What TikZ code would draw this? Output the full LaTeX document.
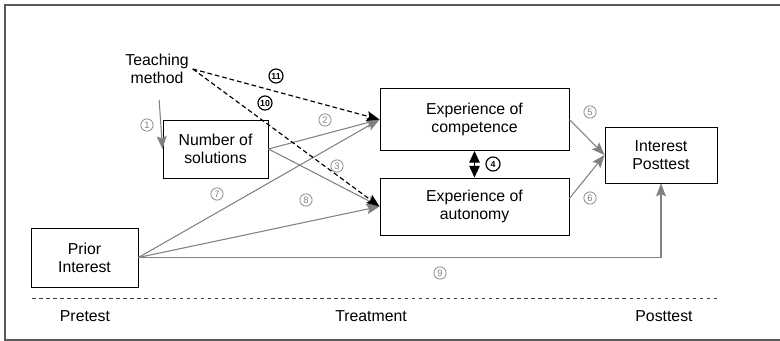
\documentclass[tikz,border=0pt]{standalone}
\usepackage{fontspec}
\setmainfont{Liberation Sans}
\usetikzlibrary{arrows.meta}
\definecolor{linegray}{gray}{0.5}
\begin{document}
\begin{tikzpicture}[x=0.03cm,y=-0.03cm,
    txt/.style={font=\fontsize{13.5}{15.6}\selectfont,align=center},
    box/.style={txt,draw,line width=0.8pt,inner sep=0pt},
    garrow/.style={draw=linegray,line width=0.9pt,-{Stealth[length=11pt,width=8.5pt,inset=2pt]}},
    darrow/.style={dash pattern=on 4pt off 2.5pt,line width=1pt,-{Stealth[length=11pt,width=8.5pt,inset=2pt]}},
    num/.style={circle,draw=linegray,text=linegray,line width=0.6pt,inner sep=0pt,minimum size=10.5pt,font=\fontsize{8}{8}\selectfont},
    bnum/.style={num,draw=black,text=black,line width=1pt,minimum size=12pt,font=\fontsize{7.5}{7.5}\selectfont\bfseries}]
    \useasboundingbox (0,0) rectangle (780,341);
    \draw[line width=1.5pt,black!65] (5,5) rectangle (790,340);
    % boxes
    \node[txt] (tm) at (157,69) {Teaching\\method};
    \node[box,minimum width=3.15cm,minimum height=1.74cm] (sol) at (215.5,149) {Number of\\solutions};
    \node[box,minimum width=5.67cm,minimum height=1.86cm] (comp) at (474.5,119.5) {Experience of\\competence};
    \node[box,minimum width=5.67cm,minimum height=1.71cm] (auto) at (474.5,206.5) {Experience of\\autonomy};
    \node[box,minimum width=3.36cm,minimum height=1.68cm] (post) at (661,155) {Interest\\Posttest};
    \node[box,minimum width=3.21cm,minimum height=1.77cm] (prior) at (84.5,257.5) {Prior\\Interest};
    % phases
    \draw[dashed,line width=0.7pt,black!75] (32,298) -- (720,298);
    \node[txt] (pre) at (85,316) {Pretest};
    \node[txt] (treat) at (371,316) {Treatment};
    \node[txt] (postt) at (664,316) {Posttest};
    % paths
    \draw[garrow,shorten <=10pt] (tm) -- (sol.west);
    \draw[garrow] (sol.east) -- (comp.west);
    \draw[garrow] (sol.east) -- (auto.west);
    \draw[garrow] (prior.east) -- (comp.west);
    \draw[garrow] (prior.east) -- (auto.west);
    \draw[garrow] (prior.east) -| (post.south);
    \draw[garrow] (comp.east) -- (post.west);
    \draw[garrow] ([yshift=7pt]auto.east) -- (post.west);
    \draw[darrow] (tm.east) -- (comp.west);
    \draw[darrow] (tm.east) -- (auto.west);
    \draw[line width=1pt,{Triangle[length=10pt,width=9pt]}-{Triangle[length=10pt,width=9pt]}] (comp.south) -- (auto.north);
    % numbers
    \node[num] (n1) at (147,125) {1};
    \node[num] (n2) at (325,120) {2};
    \node[num] (n3) at (337,166) {3};
    \node[bnum] (n4) at (493,164) {4};
    \node[num] (n5) at (590,112) {5};
    \node[num] (n6) at (590,198) {6};
    \node[num] (n7) at (217,194) {7};
    \node[num] (n8) at (306,200) {8};
    \node[num] (n9) at (440,273) {9};
    \node[bnum] (n10) at (265,103) {10};
    \node[bnum] (n11) at (276,76) {11};
\end{tikzpicture}
\end{document}
